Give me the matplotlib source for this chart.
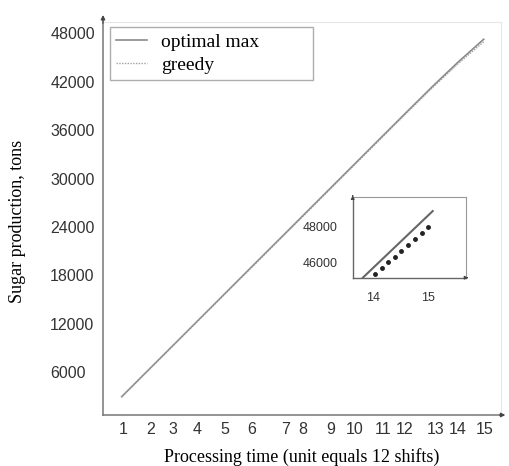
import numpy as np
import matplotlib.pyplot as plt

# data
t = [1, 2, 3, 4, 5, 6, 7, 8, 9, 10, 11, 12, 13, 14, 15]
optimal = [2980, 6180, 9380, 12580, 15780, 18980, 22180, 25380, 28580, 31780,
           34980, 38180, 41350, 44400, 47260]
greedy = [2980, 6170, 9360, 12550, 15740, 18930, 22120, 25310, 28500, 31690,
          34880, 38060, 41200, 44200, 46950]

# tick labels sit a little unevenly in the original
xtick_pos = [1.05, 2.10, 2.99, 3.92, 5.0, 6.04, 7.32, 8.01, 9.1, 9.99,
             11.11, 11.93, 13.13, 13.98, 15.03]
xtick_lab = [str(i) for i in range(1, 16)]
yticks = [6000, 12000, 18000, 24000, 30000, 36000, 42000, 48000]

# inset (zoom near the end)
inset_opt_x = [13.81, 15.08]
inset_opt_y = [45130, 48830]
inset_gr_x = [14.03, 14.15, 14.27, 14.39, 14.51, 14.63, 14.76, 14.88, 15.0]
inset_gr_y = [45317, 45650, 46000, 46294, 46628, 46944, 47261, 47594, 47928]

serif = ['Liberation Serif', 'DejaVu Serif']
sans = ['Liberation Sans', 'DejaVu Sans']

fig = plt.figure(figsize=(5.1, 4.66), dpi=100)
ax = fig.add_axes([103 / 510, 1 - 415 / 466, 398 / 510, 393 / 466])

ax.plot(t, optimal, color='#8a8a8a', lw=1.2, label='optimal max')
ax.plot(t, greedy, color='#a0a0a0', lw=1.0, ls=(0, (1, 1)), label='greedy')

ax.set_xlim(0.276, 15.67)
ax.set_ylim(710, 49400)
ax.set_xticks(xtick_pos)
ax.set_xticklabels(xtick_lab, fontfamily=sans, fontsize=11.5, color='#333333')
ax.set_yticks(yticks)
ax.set_yticklabels([str(v) for v in yticks], fontfamily=sans, fontsize=11.5,
                   color='#333333', ha='left')
ax.tick_params(axis='x', length=0, pad=5)
ax.tick_params(axis='y', length=0, pad=38)

for s in ['top', 'right']:
    ax.spines[s].set_color('#e6e6e6')
    ax.spines[s].set_linewidth(0.8)
for s in ['left', 'bottom']:
    ax.spines[s].set_color('#777777')
    ax.spines[s].set_linewidth(1.1)

# arrow ends on the axes
ax.annotate('', xy=(0, 1.025), xytext=(0, 0.99), xycoords='axes fraction',
            arrowprops=dict(arrowstyle='-|>', color='#444444', lw=1, mutation_scale=6))
ax.annotate('', xy=(1.018, 0), xytext=(0.99, 0), xycoords='axes fraction',
            arrowprops=dict(arrowstyle='-|>', color='#444444', lw=1, mutation_scale=6))

leg = ax.legend(loc='upper left', bbox_to_anchor=(0.018, 0.852, 0.51, 0.135),
                mode='expand', borderaxespad=0, fancybox=False, frameon=True,
                prop={'family': serif, 'size': 14}, handlelength=1.6,
                handletextpad=0.7, labelspacing=0.3, borderpad=0.3)
leg.get_frame().set_edgecolor('#999999')
leg.get_frame().set_linewidth(1.0)

ax.set_xlabel('Processing time (unit equals 12 shifts)', fontfamily=serif,
              fontsize=13, labelpad=8)
fig.text(18 / 510, 1 - 221 / 466, 'Sugar production, tons', rotation=90,
         ha='center', va='center', fontfamily=serif, fontsize=13)

# inset
ins = fig.add_axes([352.7 / 510, 1 - 277.7 / 466, 113.3 / 510, 81 / 466])
ins.plot(inset_opt_x, inset_opt_y, color='#666666', lw=1.5)
ins.plot(inset_gr_x, inset_gr_y, ls='none', marker='o', ms=2.5, color='#222222')
ins.set_xlim(13.625, 15.685)
ins.set_ylim(45128, 49628)
ins.set_xticks([14, 15])
ins.set_xticklabels(['14', '15'], fontfamily=sans, fontsize=9, color='#333333')
ins.set_yticks([46000, 48000])
ins.set_yticklabels(['46000', '48000'], fontfamily=sans, fontsize=9,
                    color='#333333', ha='left')
ins.tick_params(axis='x', length=0, pad=10)
ins.tick_params(axis='y', length=0, pad=36)
for s in ['top', 'right']:
    ins.spines[s].set_color('#999999')
    ins.spines[s].set_linewidth(0.8)
for s in ['left', 'bottom']:
    ins.spines[s].set_color('#666666')
    ins.spines[s].set_linewidth(1.0)
ins.annotate('', xy=(0, 1.05), xytext=(0, 0.98), xycoords='axes fraction',
             arrowprops=dict(arrowstyle='-|>', color='#444444', lw=0.8, mutation_scale=5))
ins.annotate('', xy=(1.02, 0), xytext=(0.98, 0), xycoords='axes fraction',
             arrowprops=dict(arrowstyle='-|>', color='#444444', lw=0.8, mutation_scale=5))

fig.savefig('out.png', dpi=100)
